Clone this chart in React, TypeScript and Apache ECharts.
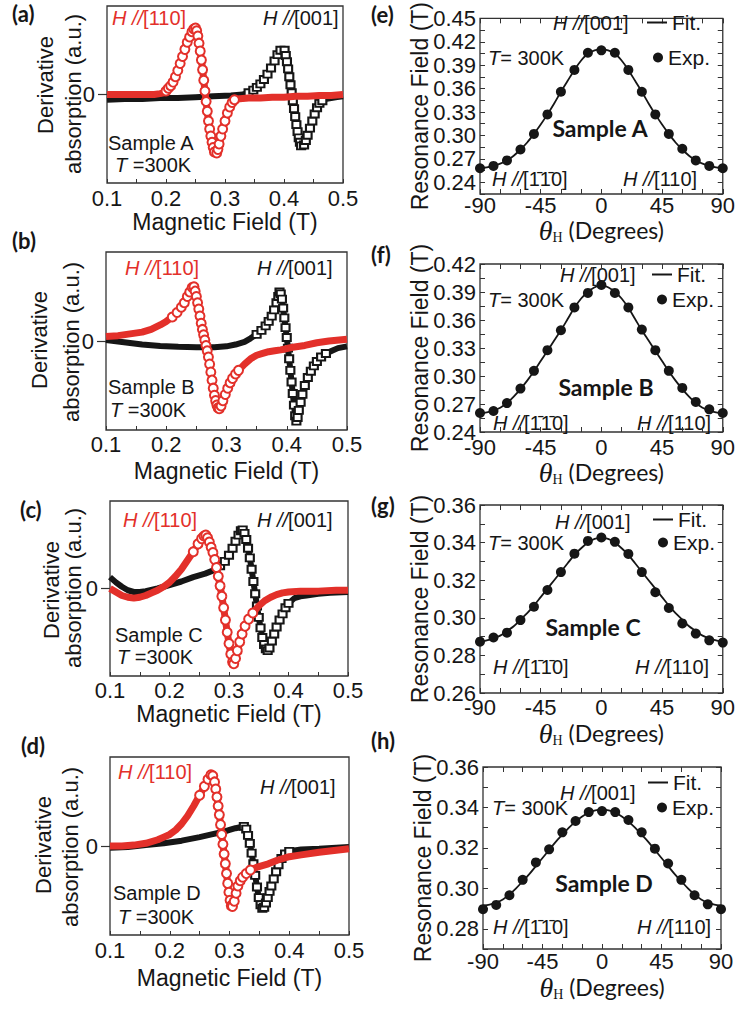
import React, { useEffect, useRef } from 'react';
import * as echarts from 'echarts';

// ---------------- DATA ----------------
// ESR derivative spectra: [magnetic field (T), derivative absorption (a.u.)]
const blackA: [number, number][] = [[0.1,-0.06],[0.13,-0.05],[0.16,-0.05],[0.19,-0.04],[0.22,-0.04],[0.25,-0.03],[0.28,-0.02],[0.31,-0.01],[0.33,0.0],[0.34,0.02],[0.348,0.05],[0.354,0.08],[0.36,0.12],[0.366,0.17],[0.372,0.23],[0.378,0.3],[0.384,0.38],[0.389,0.45],[0.394,0.5],[0.398,0.52],[0.401,0.5],[0.403,0.44],[0.405,0.37],[0.407,0.29],[0.409,0.2],[0.411,0.11],[0.413,0.02],[0.415,-0.07],[0.417,-0.16],[0.419,-0.25],[0.421,-0.34],[0.423,-0.42],[0.425,-0.49],[0.427,-0.54],[0.429,-0.58],[0.431,-0.59],[0.434,-0.57],[0.437,-0.52],[0.44,-0.46],[0.444,-0.38],[0.448,-0.3],[0.452,-0.22],[0.456,-0.15],[0.46,-0.1],[0.465,-0.07],[0.47,-0.05],[0.48,-0.04],[0.49,-0.03],[0.5,-0.02]];
const redA: [number, number][] = [[0.1,0],[0.12,0.0],[0.14,0.0],[0.16,0.0],[0.18,0.0],[0.19,0.01],[0.196,0.02],[0.2,0.04],[0.204,0.07],[0.208,0.1],[0.212,0.14],[0.216,0.2],[0.22,0.27],[0.224,0.35],[0.228,0.43],[0.232,0.51],[0.236,0.59],[0.24,0.65],[0.244,0.71],[0.247,0.74],[0.25,0.75],[0.252,0.72],[0.254,0.66],[0.256,0.58],[0.258,0.49],[0.26,0.39],[0.262,0.28],[0.264,0.16],[0.266,0.04],[0.268,-0.08],[0.27,-0.19],[0.272,-0.3],[0.274,-0.39],[0.276,-0.47],[0.278,-0.54],[0.28,-0.6],[0.282,-0.65],[0.284,-0.67],[0.286,-0.66],[0.288,-0.62],[0.29,-0.56],[0.293,-0.47],[0.296,-0.39],[0.3,-0.3],[0.304,-0.21],[0.308,-0.14],[0.312,-0.09],[0.316,-0.06],[0.32,-0.05],[0.34,-0.04],[0.36,-0.04],[0.38,-0.03],[0.4,-0.03],[0.42,-0.02],[0.44,-0.02],[0.46,-0.01],[0.48,-0.01],[0.5,0]];

const blackB: [number, number][] = [[0.1,0.01],[0.13,-0.015],[0.16,-0.04],[0.19,-0.055],[0.22,-0.065],[0.25,-0.07],[0.28,-0.07],[0.3,-0.06],[0.315,-0.04],[0.33,-0.01],[0.34,0.03],[0.35,0.075],[0.358,0.12],[0.365,0.17],[0.37,0.22],[0.375,0.28],[0.379,0.35],[0.383,0.43],[0.386,0.5],[0.388,0.55],[0.39,0.53],[0.392,0.47],[0.394,0.37],[0.396,0.26],[0.398,0.15],[0.4,0.04],[0.402,-0.08],[0.404,-0.2],[0.406,-0.33],[0.408,-0.46],[0.41,-0.59],[0.412,-0.72],[0.414,-0.84],[0.416,-0.9],[0.418,-0.86],[0.42,-0.78],[0.423,-0.69],[0.426,-0.6],[0.43,-0.5],[0.435,-0.41],[0.44,-0.34],[0.445,-0.28],[0.45,-0.23],[0.457,-0.18],[0.465,-0.14],[0.475,-0.11],[0.485,-0.08],[0.5,-0.06]];
const redB: [number, number][] = [[0.1,0.05],[0.12,0.06],[0.14,0.08],[0.16,0.1],[0.175,0.13],[0.19,0.18],[0.2,0.22],[0.21,0.27],[0.218,0.32],[0.225,0.38],[0.23,0.43],[0.235,0.5],[0.239,0.55],[0.243,0.6],[0.246,0.61],[0.248,0.56],[0.25,0.5],[0.252,0.43],[0.254,0.36],[0.256,0.28],[0.258,0.2],[0.26,0.13],[0.262,0.07],[0.264,0.01],[0.266,-0.05],[0.268,-0.11],[0.27,-0.18],[0.272,-0.26],[0.274,-0.35],[0.276,-0.44],[0.278,-0.53],[0.28,-0.61],[0.282,-0.67],[0.284,-0.72],[0.286,-0.75],[0.288,-0.76],[0.291,-0.73],[0.294,-0.67],[0.298,-0.6],[0.302,-0.53],[0.306,-0.47],[0.31,-0.42],[0.315,-0.37],[0.32,-0.33],[0.33,-0.26],[0.34,-0.2],[0.35,-0.16],[0.36,-0.14],[0.37,-0.12],[0.38,-0.11],[0.39,-0.1],[0.41,-0.07],[0.43,-0.05],[0.45,-0.02],[0.47,0.0],[0.5,0.02]];

const blackC: [number, number][] = [[0.1,0.13],[0.11,0.07],[0.12,0.02],[0.13,-0.02],[0.14,-0.04],[0.15,-0.04],[0.16,-0.03],[0.18,0.0],[0.2,0.04],[0.22,0.08],[0.24,0.13],[0.26,0.17],[0.275,0.21],[0.285,0.26],[0.293,0.31],[0.3,0.38],[0.306,0.46],[0.311,0.54],[0.316,0.61],[0.32,0.66],[0.323,0.67],[0.326,0.63],[0.329,0.56],[0.332,0.46],[0.335,0.35],[0.338,0.22],[0.341,0.08],[0.344,-0.06],[0.347,-0.2],[0.35,-0.33],[0.353,-0.45],[0.356,-0.56],[0.359,-0.64],[0.362,-0.69],[0.365,-0.71],[0.368,-0.68],[0.372,-0.6],[0.376,-0.52],[0.38,-0.44],[0.385,-0.36],[0.39,-0.29],[0.395,-0.22],[0.4,-0.17],[0.41,-0.11],[0.42,-0.09],[0.43,-0.08],[0.45,-0.06],[0.47,-0.05],[0.5,-0.04]];
const redC: [number, number][] = [[0.1,0.0],[0.11,-0.04],[0.12,-0.08],[0.13,-0.1],[0.14,-0.11],[0.15,-0.1],[0.16,-0.08],[0.17,-0.05],[0.18,-0.02],[0.19,0.02],[0.2,0.07],[0.21,0.14],[0.22,0.22],[0.23,0.32],[0.24,0.42],[0.248,0.51],[0.254,0.57],[0.258,0.6],[0.261,0.61],[0.264,0.58],[0.267,0.53],[0.27,0.47],[0.273,0.41],[0.276,0.33],[0.279,0.24],[0.282,0.14],[0.285,0.03],[0.288,-0.09],[0.291,-0.22],[0.294,-0.36],[0.297,-0.5],[0.3,-0.63],[0.303,-0.75],[0.306,-0.84],[0.308,-0.86],[0.311,-0.8],[0.314,-0.71],[0.318,-0.61],[0.322,-0.52],[0.327,-0.43],[0.333,-0.35],[0.34,-0.28],[0.35,-0.2],[0.36,-0.14],[0.37,-0.1],[0.38,-0.07],[0.39,-0.05],[0.4,-0.04],[0.42,-0.03],[0.45,-0.03],[0.48,-0.02],[0.5,-0.02]];

const blackD: [number, number][] = [[0.1,-0.02],[0.13,-0.01],[0.16,0.01],[0.19,0.03],[0.22,0.06],[0.25,0.1],[0.27,0.13],[0.29,0.16],[0.3,0.18],[0.31,0.2],[0.318,0.21],[0.324,0.22],[0.328,0.19],[0.331,0.12],[0.334,0.03],[0.337,-0.08],[0.34,-0.2],[0.343,-0.33],[0.346,-0.46],[0.349,-0.58],[0.352,-0.66],[0.355,-0.7],[0.358,-0.69],[0.361,-0.64],[0.364,-0.58],[0.367,-0.51],[0.37,-0.45],[0.374,-0.37],[0.378,-0.29],[0.382,-0.21],[0.387,-0.14],[0.393,-0.09],[0.4,-0.06],[0.42,-0.04],[0.45,-0.03],[0.5,-0.01]];
const redD: [number, number][] = [[0.1,0.0],[0.12,0.0],[0.14,0.01],[0.16,0.03],[0.18,0.07],[0.19,0.1],[0.2,0.13],[0.21,0.18],[0.22,0.25],[0.23,0.34],[0.24,0.45],[0.25,0.57],[0.258,0.67],[0.264,0.75],[0.269,0.8],[0.272,0.79],[0.275,0.72],[0.277,0.64],[0.279,0.55],[0.281,0.45],[0.283,0.35],[0.285,0.24],[0.287,0.13],[0.289,0.02],[0.291,-0.09],[0.293,-0.2],[0.295,-0.31],[0.297,-0.42],[0.299,-0.52],[0.301,-0.61],[0.303,-0.67],[0.305,-0.68],[0.308,-0.62],[0.311,-0.53],[0.314,-0.45],[0.318,-0.39],[0.322,-0.35],[0.328,-0.31],[0.335,-0.27],[0.345,-0.24],[0.355,-0.22],[0.365,-0.2],[0.38,-0.16],[0.4,-0.12],[0.42,-0.1],[0.45,-0.07],[0.475,-0.05],[0.5,-0.03]];

// Angular dependence of the resonance field
const EXP_ANGLES = [-90,-80,-70,-60,-50,-40,-30,-20,-10,0,10,20,30,40,50,60,70,80,90];
const FIT_ANGLES = [-90,-85,-80,-75,-70,-65,-60,-55,-50,-45,-40,-35,-30,-25,-20,-15,-10,-5,0,5,10,15,20,25,30,35,40,45,50,55,60,65,70,75,80,85,90];

const expE = [0.258,0.261,0.268,0.282,0.302,0.327,0.356,0.384,0.406,0.409,0.406,0.384,0.356,0.327,0.302,0.283,0.268,0.261,0.258];
const fitE = [0.258,0.259,0.261,0.264,0.268,0.274,0.282,0.291,0.302,0.314,0.327,0.341,0.356,0.370,0.384,0.396,0.405,0.409,0.411,0.409,0.405,0.396,0.384,0.370,0.356,0.341,0.327,0.314,0.302,0.291,0.282,0.274,0.268,0.264,0.261,0.259,0.258];

const expF = [0.2604,0.2625,0.271,0.2865,0.3055,0.3277,0.349,0.3735,0.389,0.3975,0.389,0.3735,0.3497,0.3277,0.3055,0.2872,0.2722,0.2643,0.2604];
const fitF = [0.260,0.261,0.263,0.266,0.271,0.278,0.286,0.295,0.305,0.316,0.327,0.338,0.349,0.361,0.373,0.383,0.390,0.395,0.398,0.395,0.390,0.383,0.373,0.361,0.349,0.338,0.327,0.316,0.305,0.295,0.286,0.278,0.271,0.266,0.263,0.261,0.260];

const expG = [0.2873,0.2895,0.2921,0.2988,0.3059,0.3148,0.3243,0.3341,0.3409,0.3427,0.3404,0.334,0.3243,0.3136,0.3052,0.297,0.2916,0.288,0.2868];
const fitG = [0.287,0.288,0.289,0.2905,0.293,0.2955,0.299,0.3025,0.3065,0.311,0.3155,0.320,0.3245,0.329,0.3335,0.337,0.340,0.342,0.3425,0.342,0.340,0.337,0.3335,0.329,0.3245,0.320,0.3155,0.311,0.3065,0.3025,0.299,0.2955,0.293,0.2905,0.289,0.288,0.287];

const expH = [0.2897,0.2918,0.2966,0.3042,0.3128,0.3193,0.3277,0.3333,0.3377,0.3382,0.3377,0.3338,0.3277,0.3196,0.3123,0.3042,0.2966,0.2921,0.2897];
const fitH = [0.2915,0.292,0.293,0.2945,0.297,0.300,0.3035,0.307,0.311,0.315,0.319,0.323,0.3265,0.330,0.333,0.3355,0.3375,0.3385,0.339,0.3385,0.3375,0.3355,0.333,0.330,0.3265,0.323,0.319,0.315,0.311,0.307,0.3035,0.300,0.297,0.2945,0.293,0.292,0.2915];

const SAMPLES = ['A', 'B', 'C', 'D'];

// ---------------- STYLE / LAYOUT ----------------
const RED = '#e3302a';
const INK = '#161616';
const SANS = "'Liberation Sans', Arial, sans-serif";
const HUM = "Lato, 'Open Sans', sans-serif";
const SERIF = "'Liberation Serif', 'Times New Roman', serif";

const LEFT_PANELS = [
  { tag: '(a)', tagX: 12, tagY: 13, grid: { left: 107, top: 6, width: 236, height: 177 }, lm: 4, ng: 27,
    deriv: [45, 85], absorb: [73, 94],
    red: redA, black: blackA, t110: [112, 18], t001: [263, 18], samp: [108, 143], temp: [115, 165] },
  { tag: '(b)', tagX: 12, tagY: 240, grid: { left: 106, top: 252, width: 241, height: 178 }, lm: 3, ng: 29,
    deriv: [39, 340], absorb: [71, 342],
    red: redB, black: blackB, t110: [125, 268], t001: [257, 268], samp: [108, 387], temp: [110, 410] },
  { tag: '(c)', tagX: 20, tagY: 509, grid: { left: 110, top: 501, width: 238, height: 175 }, lm: 3, ng: 26,
    deriv: [51, 590], absorb: [73, 588],
    red: redC, black: blackC, t110: [123, 520], t001: [257, 520], samp: [115, 635], temp: [117, 657] },
  { tag: '(d)', tagX: 21, tagY: 745, grid: { left: 110, top: 757, width: 239, height: 178 }, lm: 4, ng: 31,
    deriv: [43, 845], absorb: [70, 847],
    red: redD, black: blackD, t110: [118, 772], t001: [260, 787], samp: [113, 893], temp: [118, 917] },
];

const RIGHT_PANELS = [
  { tag: '(e)', tagY: 14, grid: { left: 480, top: 14, width: 243, height: 180 }, min: 0.225, max: 0.45, step: 0.015, major: 0.03, lm: 0, ng: 22,
    exp: expE, fit: fitE, t001: [553, 23], temp: [488, 58], samp: [600, 128], tb: [492, 179], t110: [623, 179], fitL: [647, 23], expL: [653, 58] },
  { tag: '(f)', tagY: 254, grid: { left: 480, top: 264, width: 244, height: 168 }, min: 0.24, max: 0.42, step: 0.015, major: 0.03, lm: 4, ng: 26,
    exp: expF, fit: fitF, t001: [560, 275], temp: [488, 300], samp: [606, 387], tb: [493, 423], t110: [637, 423], fitL: [652, 275], expL: [657, 300] },
  { tag: '(g)', tagY: 505, grid: { left: 480, top: 505, width: 243, height: 188 }, min: 0.26, max: 0.36, step: 0.01, major: 0.02, lm: 3, ng: 26,
    exp: expG, fit: fitG, t001: [555, 522], temp: [488, 543], samp: [593, 627], tb: [493, 667], t110: [635, 667], fitL: [653, 520], expL: [658, 543] },
  { tag: '(h)', tagY: 740, grid: { left: 483, top: 767, width: 238, height: 182 }, min: 0.27, max: 0.36, step: 0.01, major: 0.02, lm: 1, ng: 24,
    exp: expH, fit: fitH, t001: [560, 793], temp: [492, 808], samp: [604, 883], tb: [493, 927], t110: [637, 927], fitL: [648, 783], expL: [657, 808] },
];

// Open markers only where the sweep is dense and steep (elsewhere the overlapping
// markers merge into the solid band drawn by the line underneath).
function markerSizes(pts: [number, number][], gw: number, gh: number, size: any) {
  const sx = gw / 0.4;
  const sy = gh / 2;
  return pts.map((p, i) => {
    let show = false;
    [pts[i - 1], pts[i + 1]].forEach((q) => {
      if (!q) return;
      const dx = Math.abs(q[0] - p[0]) * sx;
      const dy = Math.abs(q[1] - p[1]) * sy;
      if (dx <= 5 && dy > 2) show = true;
    });
    return show ? size : 0;
  });
}

function txt(x: number, y: number, parts: [string, string][], color: string, size: number, align = 'left') {
  const rich: any = {};
  let text = '';
  parts.forEach(([style, s], k) => {
    const key = style + k;
    rich[key] = {
      fontFamily: style === 'b' ? HUM : SANS,
      fontSize: style === 'b' ? size + 3 : size,
      fontStyle: style === 'i' ? 'italic' : 'normal',
      fontWeight: style === 'b' ? 'bold' : 'normal',
      fill: color,
    };
    text += `{${key}|${s}}`;
  });
  return { type: 'text', x, y, silent: true, style: { text, rich, fill: color, fontSize: size, fontFamily: SANS, align, verticalAlign: 'middle' } };
}

function vtxt(x: number, y: number, text: string) {
  return { type: 'text', x, y, rotation: Math.PI / 2, silent: true,
    style: { text, fill: INK, fontSize: 22, fontFamily: SANS, align: 'center', verticalAlign: 'middle' } };
}

function buildOption() {
  const grid: any[] = [];
  const xAxis: any[] = [];
  const yAxis: any[] = [];
  const series: any[] = [];
  const legend: any[] = [];
  const elements: any[] = [];
  const noLine = { show: false, onZero: false };

  LEFT_PANELS.forEach((p, i) => {
    grid.push({ ...p.grid, show: true, borderColor: '#333', borderWidth: 1.3, backgroundColor: 'transparent', containLabel: false });
    const xi = xAxis.length;
    xAxis.push({
      type: 'value', gridIndex: grid.length - 1, position: 'bottom', min: 0.1, max: 0.5, interval: 0.05,
      axisLine: noLine, splitLine: { show: false },
      axisTick: { show: true, inside: true, length: 4, lineStyle: { color: '#333', width: 1 } },
      axisLabel: { margin: p.lm, fontSize: 22, fontFamily: SANS, color: INK,
        formatter: (v: number) => (Math.round(v * 100) % 10 === 0 ? v.toFixed(1) : '') },
      name: 'Magnetic Field (T)', nameLocation: 'middle', nameGap: p.ng, nameMoveOverlap: false,
      nameTextStyle: { fontSize: 23, fontFamily: SANS, color: INK },
    });
    const yi = yAxis.length;
    yAxis.push({
      type: 'value', gridIndex: grid.length - 1, position: 'left', min: -1, max: 1, interval: 1,
      axisLine: noLine, splitLine: { show: false },
      axisTick: { show: true, inside: false, length: 9, customValues: [0], lineStyle: { color: '#333', width: 1.2 } },
      axisLabel: { customValues: [0], margin: 12, fontSize: 22, fontFamily: SANS, color: INK,
        formatter: (v: number) => (Math.abs(v) < 1e-9 ? '0' : '') },
    });
    const gw = p.grid.width;
    const gh = p.grid.height;
    series.push({ type: 'line', xAxisIndex: xi, yAxisIndex: yi, data: p.black, showSymbol: false, silent: true,
      lineStyle: { color: INK, width: 6 }, z: 2 });
    const ks = markerSizes(p.black, gw, gh, [8, 7]);
    series.push({ type: 'scatter', xAxisIndex: xi, yAxisIndex: yi, silent: true, symbol: 'emptyRect',
      data: p.black.map((d, j) => ({ value: d, symbolSize: ks[j] })),
      itemStyle: { color: INK, borderWidth: 1.1, opacity: 1 }, z: 3 });
    series.push({ type: 'line', xAxisIndex: xi, yAxisIndex: yi, data: p.red, showSymbol: false, silent: true,
      lineStyle: { color: RED, width: 7 }, z: 4 });
    const rs = markerSizes(p.red, gw, gh, 9);
    series.push({ type: 'scatter', xAxisIndex: xi, yAxisIndex: yi, silent: true, symbol: 'emptyCircle',
      data: p.red.map((d, j) => ({ value: d, symbolSize: rs[j] })),
      itemStyle: { color: RED, borderWidth: 1.1, opacity: 1 }, z: 5 });

    elements.push({ type: 'text', x: p.tagX, y: p.tagY, silent: true,
      style: { text: p.tag, fontFamily: HUM, fontWeight: 'bold', fontSize: 22, fill: INK, align: 'left', verticalAlign: 'middle' } });
    elements.push(vtxt(p.deriv[0], p.deriv[1], 'Derivative'));
    elements.push(vtxt(p.absorb[0], p.absorb[1], 'absorption (a.u.)'));
    elements.push(txt(p.t110[0], p.t110[1], [['i', 'H //'], ['n', '[110]']], RED, 20));
    elements.push(txt(p.t001[0], p.t001[1], [['i', 'H //'], ['n', '[001]']], INK, 20));
    elements.push(txt(p.samp[0], p.samp[1], [['n', 'Sample ' + SAMPLES[i]]], INK, 20));
    elements.push(txt(p.temp[0], p.temp[1], [['i', 'T '], ['n', '=300K']], INK, 20));
  });

  RIGHT_PANELS.forEach((p, i) => {
    grid.push({ ...p.grid, show: true, borderColor: '#333', borderWidth: 1.3, backgroundColor: 'transparent', containLabel: false });
    const gi = grid.length - 1;
    const xi = xAxis.length;
    xAxis.push({
      type: 'value', gridIndex: gi, position: 'bottom', min: -90, max: 90, interval: 15,
      axisLine: noLine, splitLine: { show: false },
      axisTick: { show: true, inside: true, length: 5, lineStyle: { color: '#333', width: 1 } },
      axisLabel: { margin: p.lm, fontSize: 22, fontFamily: SANS, color: INK,
        formatter: (v: number) => (Math.round(v) % 45 === 0 ? String(Math.round(v)) : '') },
      name: '{t|θ}{s|H}{d| (Degrees)}', nameLocation: 'middle', nameGap: p.ng, nameMoveOverlap: false,
      nameTextStyle: { color: INK, rich: {
        t: { fontFamily: SERIF, fontStyle: 'italic', fontSize: 28, color: INK },
        s: { fontFamily: SERIF, fontSize: 14, color: INK, verticalAlign: 'bottom' },
        d: { fontFamily: HUM, fontSize: 23, color: INK },
      } },
    });
    xAxis.push({
      type: 'value', gridIndex: gi, position: 'top', min: -90, max: 90, interval: 15,
      axisLine: noLine, splitLine: { show: false }, axisLabel: { show: false },
      axisTick: { show: true, inside: true, length: 5, lineStyle: { color: '#333', width: 1 } },
    });
    const yi = yAxis.length;
    const isMajor = (v: number) => Math.abs(v / p.major - Math.round(v / p.major)) < 1e-6;
    yAxis.push({
      type: 'value', gridIndex: gi, position: 'left', min: p.min, max: p.max, interval: p.step,
      axisLine: noLine, splitLine: { show: false },
      axisTick: { show: true, inside: true, length: 5, lineStyle: { color: '#333', width: 1 } },
      axisLabel: { margin: 4, fontSize: 22, fontFamily: SANS, color: INK,
        formatter: (v: number) => (isMajor(v) ? v.toFixed(2) : '') },
      name: 'Resonance Field (T)', nameLocation: 'middle', nameGap: 49, nameMoveOverlap: false,
      nameTextStyle: { fontSize: 23, fontFamily: SANS, color: INK },
    });
    yAxis.push({
      type: 'value', gridIndex: gi, position: 'right', min: p.min, max: p.max, interval: p.step,
      axisLine: noLine, splitLine: { show: false }, axisLabel: { show: false },
      axisTick: { show: true, inside: true, length: 5, lineStyle: { color: '#333', width: 1 } },
    });
    series.push({ type: 'line', name: 'Fit.', xAxisIndex: xi, yAxisIndex: yi, silent: true,
      data: FIT_ANGLES.map((a, j) => [a, p.fit[j]]), showSymbol: false, smooth: 0.3,
      lineStyle: { color: INK, width: 1.8 }, itemStyle: { color: INK }, z: 3 });
    series.push({ type: 'scatter', name: 'Exp.', xAxisIndex: xi, yAxisIndex: yi, silent: true,
      data: EXP_ANGLES.map((a, j) => [a, p.exp[j]]), symbol: 'circle', symbolSize: 10,
      itemStyle: { color: INK, opacity: 1 }, z: 4 });

    legend.push({ data: [{ name: 'Fit.', icon: 'rect' }], left: p.fitL[0], top: p.fitL[1] - 11, padding: 0,
      itemWidth: 20, itemHeight: 2, selectedMode: false, textStyle: { fontSize: 21, fontFamily: SANS, color: INK } });
    legend.push({ data: [{ name: 'Exp.', icon: 'circle' }], left: p.expL[0], top: p.expL[1] - 11, padding: 0,
      itemWidth: 10, itemHeight: 10, selectedMode: false, textStyle: { fontSize: 21, fontFamily: SANS, color: INK } });

    elements.push({ type: 'text', x: 371, y: p.tagY, silent: true,
      style: { text: p.tag, fontFamily: HUM, fontWeight: 'bold', fontSize: 22, fill: INK, align: 'left', verticalAlign: 'middle' } });
    elements.push(txt(p.t001[0], p.t001[1], [['i', 'H //'], ['n', '[001]']], INK, 20));
    elements.push(txt(p.temp[0], p.temp[1], [['i', 'T'], ['n', '= 300K']], INK, 20));
    elements.push(txt(p.samp[0], p.samp[1], [['b', 'Sample ' + SAMPLES[i]]], INK, 20, 'center'));
    elements.push(txt(p.tb[0], p.tb[1], [['i', 'H //'], ['n', '[1\u03041\u03040]']], INK, 20));
    elements.push(txt(p.t110[0], p.t110[1], [['i', 'H //'], ['n', '[110]']], INK, 20));
  });

  return {
    animation: false,
    backgroundColor: '#ffffff',
    grid, xAxis, yAxis, series, legend,
    graphic: { elements },
  };
}

export default function App() {
  const ref = useRef<HTMLDivElement>(null);
  useEffect(() => {
    if (!ref.current) return;
    const chart = echarts.init(ref.current, undefined, { renderer: 'svg' });
    chart.setOption(buildOption() as any);
    return () => chart.dispose();
  }, []);
  return (
    <div
      ref={ref}
      style={{ position: 'absolute', left: 0, top: 0, width: 738, height: 1010, background: '#fff' }}
    />
  );
}
